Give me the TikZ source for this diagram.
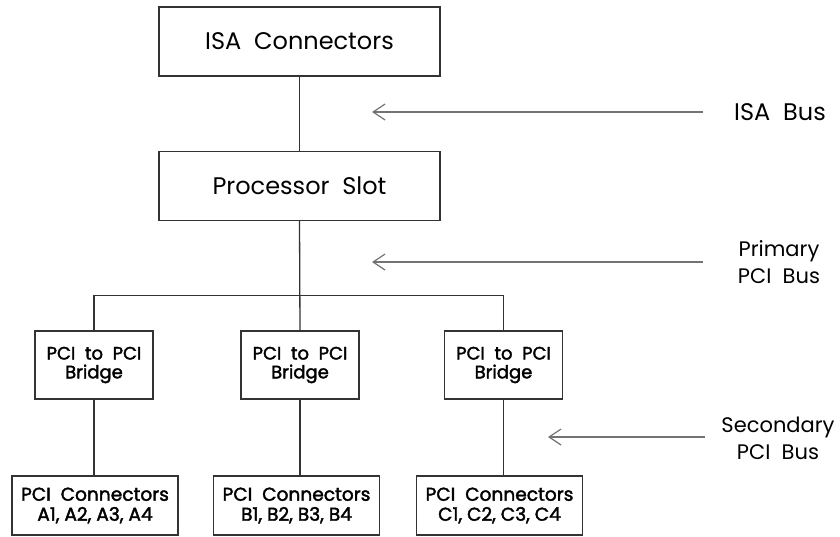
\documentclass[tikz,border=0pt]{standalone}
\usepackage{fontspec}
\setmainfont{Poppins}
\newfontfamily\boxfont[FakeBold=2]{Poppins}
\usetikzlibrary{positioning,arrows.meta}

\tikzset{
  unitbox/.style={draw=black!80, line width=0.65pt, align=center, inner sep=0pt},
  bigbox/.style={unitbox, minimum width=140.5pt, minimum height=34.5pt, font=\fontsize{12}{14}\selectfont},
  bridgebox/.style={unitbox, minimum width=59pt, minimum height=34pt, font=\boxfont\fontsize{9}{9.4}\selectfont},
  connbox/.style={unitbox, minimum width=83pt, minimum height=29.5pt, font=\boxfont\fontsize{9.3}{10}\selectfont},
  buslabel/.style={align=center, inner sep=0pt, font=\fontsize{10.5}{13.5}\selectfont},
  link/.style={draw=black!80, line width=0.65pt},
  busarrow/.style={draw=black!55, line width=0.6pt, -{Straight Barb[length=6pt,width=8pt]}}
}

\begin{document}
\begin{tikzpicture}[x=0.5pt, y=-0.5pt]
  \useasboundingbox (0,0) rectangle (840,536);

  % main boxes
  \node[bigbox] (isa) at (299.5,41.5) {ISA\ \ Connectors};
  \node[bigbox] (proc) at (299.5,186) {Processor\ \ Slot};

  % bridges
  \node[bridgebox] (bridgeA) at (94,365) {PCI\ \ to\ \ PCI\\Bridge};
  \node[bridgebox] (bridgeB) at (300,365) {PCI\ \ to\ \ PCI\\Bridge};
  \node[bridgebox] (bridgeC) at (503.5,365) {PCI\ \ to\ \ PCI\\Bridge};

  % slot groups
  \node[connbox] (connA) at (95,505.5) {PCI\ \ Connectors\\A1,\ A2,\ A3,\ A4};
  \node[connbox] (connB) at (296.5,505.5) {PCI\ \ Connectors\\B1,\ B2,\ B3,\ B4};
  \node[connbox] (connC) at (499.5,505.5) {PCI\ \ Connectors\\C1,\ C2,\ C3,\ C4};

  % buses
  \draw[link] (isa.south) -- (proc.north);
  \draw[link] (proc.south) -- (bridgeB.north);
  \draw[link] (bridgeA.north) -- ++(0,-35) -| (bridgeC.north);
  \draw[link] (bridgeA.south) -- (bridgeA.south |- connA.north);
  \draw[link] (bridgeB.south) -- (bridgeB.south |- connB.north);
  \draw[link] (bridgeC.south) -- (bridgeC.south |- connC.north);

  % bus labels
  \node[buslabel] (isabus) at (780,112) {\fontsize{12}{14}\selectfont ISA\ \ Bus};
  \node[buslabel] (pribus) at (779,262.5) {Primary\\PCI\ \ Bus};
  \node[buslabel] (secbus) at (778,438) {Secondary\\PCI\ \ Bus};

  \coordinate (isafrom) at (703,112);
  \coordinate (isato) at (372,112);
  \coordinate (prifrom) at (703,262);
  \coordinate (prito) at (372,262);
  \coordinate (secfrom) at (705,437);
  \coordinate (secto) at (548,437);
  \draw[busarrow] (isafrom) -- (isato);
  \draw[busarrow] (prifrom) -- (prito);
  \draw[busarrow] (secfrom) -- (secto);
\end{tikzpicture}
\end{document}
